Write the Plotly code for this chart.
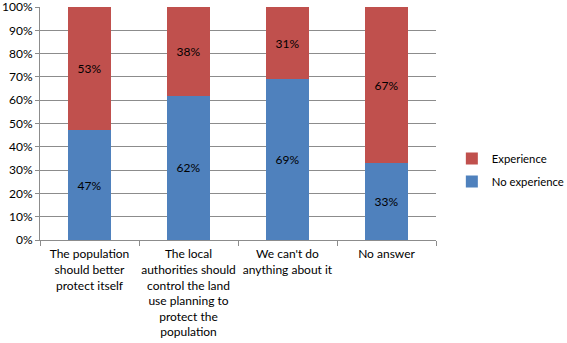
import plotly.graph_objects as go

categories = ["The population<br>should better<br>protect itself",
              "The local<br>authorities should<br>control the land<br>use planning to<br>protect the<br>population",
              "We can't do<br>anything about it",
              "No answer"]
no_experience = [47, 62, 69, 33]
experience = [53, 38, 31, 67]
y_ticks = [0, 10, 20, 30, 40, 50, 60, 70, 80, 90, 100]

fig = go.Figure()
fig.add_trace(go.Bar(x=categories, y=no_experience, name="No experience",
                     legendgroup="b", legendrank=2,
                     marker=dict(color="#4F81BD", line=dict(width=0)),
                     text=[f"{v}%" for v in no_experience], textposition="inside",
                     insidetextanchor="middle", textfont=dict(color="black", size=12)))
fig.add_trace(go.Bar(x=categories, y=experience, name="Experience",
                     legendgroup="a", legendrank=1,
                     marker=dict(color="#C0504D", line=dict(width=0)),
                     text=[f"{v}%" for v in experience], textposition="inside",
                     insidetextanchor="middle", textfont=dict(color="black", size=12)))

fig.update_layout(
    barmode="stack", bargap=0.575,
    width=567, height=343,
    margin=dict(l=40, r=131, t=7, b=103, autoexpand=False),
    paper_bgcolor="white", plot_bgcolor="white",
    font=dict(family="Lato, Open Sans, sans-serif", size=12, color="black"),
    uniformtext=dict(mode="show", minsize=12),
    legend=dict(x=1.04, xanchor="left", y=0.30, yanchor="middle",
                traceorder="grouped", font=dict(size=11.3), itemwidth=30,
                tracegroupgap=4),
    showlegend=True,
)
fig.update_yaxes(range=[0, 100], tickvals=y_ticks, ticktext=[f"{v}%" for v in y_ticks],
                 showgrid=True, gridcolor="#8C8C8C", gridwidth=1, automargin=False,
                 showline=True, linecolor="#8C8C8C", ticks="outside", ticklen=4,
                 ticklabeloverflow="allow",
                 tickcolor="#8C8C8C", tickfont=dict(size=12), zeroline=False)
fig.update_xaxes(showline=True, linecolor="#8C8C8C", ticks="outside", tickson="boundaries",
                 ticklen=5, tickcolor="#8C8C8C", tickangle=0, automargin=False,
                 ticklabelstandoff=3, tickfont=dict(size=12))

fig.write_html("out.html", config={"displayModeBar": False},
               post_script="document.body.style.margin='0';document.body.style.overflow='hidden';")
